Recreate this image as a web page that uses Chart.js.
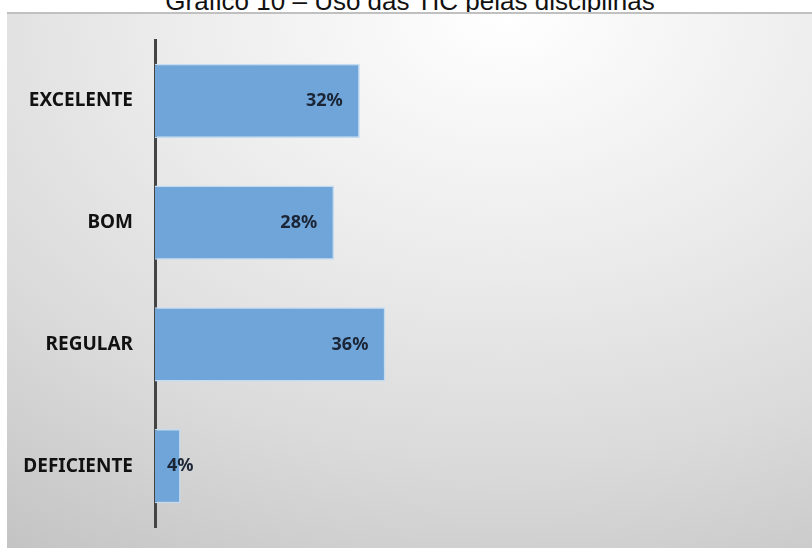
<!DOCTYPE html>
<html>
<head>
<meta charset="utf-8">
<script src="https://cdn.jsdelivr.net/npm/chart.js@4"></script>
<style>
  html, body { margin: 0; padding: 0; background: #fff; }
  body { width: 812px; height: 548px; position: relative; overflow: hidden; }
  #title {
    position: absolute; left: 4px; top: -12px; width: 812px; text-align: center;
    font: 26px "Liberation Sans", Arial, sans-serif; color: #111; line-height: 26px;
    white-space: nowrap;
  }
  #panel {
    position: absolute; left: 7px; top: 12px; width: 805px; height: 536px;
    box-shadow: inset 0 2px 0 #c0c0c0;
    background: radial-gradient(ellipse 110% 120% at 62% 0%, #ffffff 0%, #ebebeb 40%, #dadada 70%, #c4c4c4 100%);
  }
  canvas { display: block; }
</style>
</head>
<body>
<div id="title">Gráfico 10 – Uso das TIC pelas disciplinas</div>
<div id="panel"><canvas id="chart" width="805" height="536"></canvas></div>
<script>
// Uso das TIC pelas disciplinas

const CATEGORIES = ['EXCELENTE', 'BOM', 'REGULAR', 'DEFICIENTE'];
const VALUES = [32, 28, 36, 4];   // percent

const BAR_COLOR = '#6fa5d9';
const LABEL_FONT = '"Noto Sans", sans-serif';

// --- Value labels (Excel-style "inside end") ---

const valueLabels = {
  id: 'valueLabels',
  afterDatasetsDraw(chart) {
    const ctx = chart.ctx;
    const meta = chart.getDatasetMeta(0);
    ctx.save();
    ctx.font = `bold 18px ${LABEL_FONT}`;
    ctx.fillStyle = '#1b2536';
    ctx.textBaseline = 'middle';
    meta.data.forEach((bar, i) => {
      const text = VALUES[i] + '%';
      const w = ctx.measureText(text).width;
      let left = bar.x - 17 - w;
      if (left < bar.base + 10) left = bar.base + 12;
      ctx.fillText(text, left, bar.y);
    });
    ctx.restore();
  },
};

new Chart(document.getElementById('chart'), {
  type: 'bar',
  data: {
    labels: CATEGORIES,
    datasets: [{
      data: VALUES,
      backgroundColor: BAR_COLOR,
      borderColor: '#c4dcf2',
      borderWidth: 1.5,
      borderSkipped: 'start',
      barPercentage: 0.61,
      categoryPercentage: 1,
    }],
  },
  options: {
    indexAxis: 'y',
    responsive: false,
    animation: false,
    layout: { padding: { top: 28, bottom: 21, left: 0, right: 17 } },
    scales: {
      x: { display: false, min: 0, max: 100 },
      y: {
        offset: true,
        // invisible tick marks give the gap between labels and axis line
        grid: { display: false, drawTicks: true, tickLength: 22 },
        border: { display: true, color: '#444', width: 3 },
        ticks: {
          color: '#111',
          padding: 0,
          font: { family: LABEL_FONT, size: 19, weight: 'bold' },
        },
        afterFit(scale) { scale.width = 148; },
      },
    },
    plugins: {
      legend: { display: false },
      tooltip: { enabled: false },
    },
  },
  plugins: [valueLabels],
});
</script>
</body>
</html>
